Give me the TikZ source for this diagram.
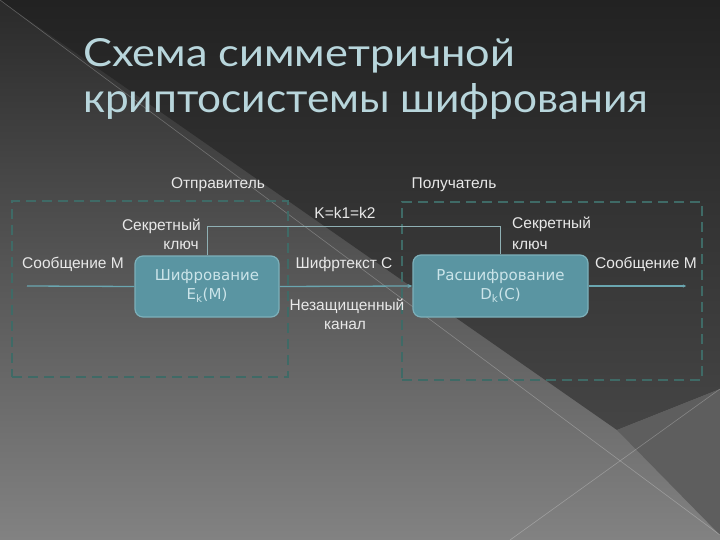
\documentclass[tikz,border=0pt]{standalone}
\usepackage{fontspec}
\setmainfont{Liberation Sans}
\newfontfamily\titlefont{Lato}
\newfontfamily\boxfont{DejaVu Sans}
\usetikzlibrary{arrows.meta}
\definecolor{bgdark}{HTML}{222222}
\definecolor{bgdarkb}{HTML}{454545}
\definecolor{bglight}{HTML}{2A2A2A}
\definecolor{bglightm}{HTML}{444444}
\definecolor{bglightb}{HTML}{828282}
\definecolor{bgmid}{HTML}{5E5E5E}
\definecolor{titlecol}{HTML}{B8D6DC}
\definecolor{labelcol}{HTML}{E8E8E8}
\definecolor{boxfill}{HTML}{5A95A2}
\definecolor{boxedge}{HTML}{7DB0BA}
\definecolor{boxtext}{HTML}{CBE4E9}
\definecolor{linecol}{HTML}{6AA6B0}
\definecolor{keycol}{HTML}{8FB0B4}
\definecolor{dashcol}{HTML}{3F6A66}
\tikzset{
  lbl/.style={text=labelcol, font=\fontsize{15.5}{17}\selectfont, inner sep=0pt},
  procbox/.style={draw=boxedge, line width=1.2pt, fill=boxfill, rounded corners=8pt,
    text=boxtext, font=\boxfont\fontsize{15}{19}\selectfont, align=center, inner sep=0pt},
  dashbox/.style={draw=dashcol, line width=1.6pt, dash pattern=on 10pt off 6pt, inner sep=0pt},
  flow/.style={draw=linecol, line width=1.3pt},
  keyline/.style={draw=keycol, line width=1pt},
}
\begin{document}
\begin{tikzpicture}[x=1pt,y=-1pt]
\useasboundingbox (0,0) rectangle (720,540);
% background
\shade[top color=bglight, middle color=bglightm, bottom color=bglightb] (0,0) rectangle (720,540);
\shade[top color=bgdark, bottom color=bgdarkb] (0,0) -- (720,0) -- (720,389) -- (617,430) -- cycle;
\fill[bgmid] (617,430) -- (720,389) -- (720,535) -- cycle;
\draw[white, opacity=0.25, line width=0.6pt] (0,0) -- (720,535);
\draw[white, opacity=0.25, line width=0.6pt] (510,540) -- (720,389);
% title
\node[anchor=base west, inner sep=0pt, text=titlecol] (t1) at (83,67)
  {\resizebox{432pt}{28pt}{\titlefont Схема симметричной}};
\node[anchor=base west, inner sep=0pt, text=titlecol] (t2) at (83,113)
  {\resizebox{565pt}{29pt}{\titlefont криптосистемы шифрования}};
% dashed boxes
\node[dashbox, minimum width=276pt, minimum height=176pt] (sender) at (150,289) {};
\node[dashbox, minimum width=300pt, minimum height=178pt] (receiver) at (552,291) {};
\node[lbl] (sendlbl) at (218,185) {Отправитель};
\node[lbl] (recvlbl) at (454,185) {Получатель};
% process boxes
\node[procbox, minimum width=144pt, minimum height=61pt] (enc) at (207,286.5)
  {Шифрование\\E\textsubscript{k}(M)};
\node[procbox, minimum width=175pt, minimum height=62pt] (dec) at (500.5,286)
  {Расшифрование\\D\textsubscript{k}(C)};
% connectors
\coordinate (in) at (27,286);
\coordinate (out) at (686,286);
\draw[flow] (in) -- (enc.west);
\draw[flow, -{Stealth[length=5pt,width=4pt]}] (enc.east) -- (dec.west);
\draw[flow, -{Stealth[length=3pt,width=3pt]}] (dec.east) -- (out);
\draw[keyline] (enc.north) -- ++(0,-29) -| (dec.north);
% labels
\node[lbl, anchor=east] (skl1) at (201,226) {Секретный};
\node[lbl, anchor=east] (skl2) at (199,245) {ключ};
\node[lbl, anchor=west] (skr1) at (512,224) {Секретный};
\node[lbl, anchor=west] (skr2) at (512,245) {ключ};
\node[lbl] (key) at (345,213) {K=k1=k2};
\node[lbl] (msgin) at (73,264) {Сообщение М};
\node[lbl] (msgout) at (646,264) {Сообщение М};
\node[lbl] (ctext) at (344,264) {Шифртекст С};
\node[lbl] (chan1) at (347,306) {Незащищенный};
\node[lbl] (chan2) at (345,325) {канал};
\end{tikzpicture}
\end{document}
